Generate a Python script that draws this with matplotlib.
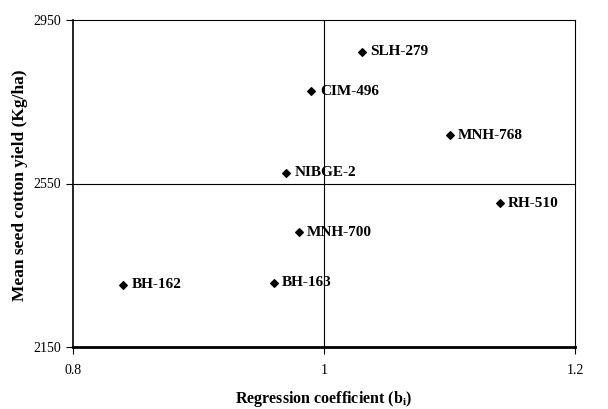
import matplotlib.pyplot as plt

# genotypes: regression coefficient (b) vs mean seed cotton yield
names = ['SLH-279', 'CIM-496', 'MNH-768', 'NIBGE-2', 'RH-510', 'MNH-700', 'BH-162', 'BH-163']
b = [1.03, 0.99, 1.10, 0.97, 1.14, 0.98, 0.84, 0.96]
yld = [2872, 2776, 2668, 2576, 2502, 2431, 2302, 2307]

xticks = [0.8, 1.0, 1.2]
xticklabels = ['0.8', '1', '1.2']
yticks = [2150, 2550, 2950]

plt.rcParams['font.family'] = ['Liberation Serif', 'DejaVu Serif']

fig = plt.figure(figsize=(6.08, 4.09), dpi=100)
ax = fig.add_axes([73/608, 1 - 347/409, (575-73)/608, (347-20)/409])

ax.axvline(1.0, color='black', lw=0.8)
ax.axhline(2550, color='black', lw=0.8)
ax.scatter(b, yld, marker='D', s=15, color='black', zorder=3)
for n, xv, yv in zip(names, b, yld):
    ax.annotate(n, (xv, yv), xytext=(6, 0), textcoords='offset points',
                va='center', ha='left', fontsize=11, fontweight='bold')

ax.set_xlim(0.8, 1.2)
ax.set_ylim(2150, 2950)
ax.set_xticks(xticks)
ax.set_xticklabels(xticklabels)
ax.set_yticks(yticks)
ax.tick_params(labelsize=10, direction='out', length=5, width=0.8)
ax.tick_params(axis='x', pad=7)

ax.spines['top'].set_linewidth(0.8)
ax.spines['right'].set_linewidth(0.8)
ax.spines['left'].set_linewidth(1.2)
ax.spines['bottom'].set_linewidth(2.0)

fig.text(324/608, 1 - 399/409, 'Regression coefficient (b$_\\mathregular{i}$)',
         fontsize=11.5, fontweight='bold', ha='center', va='center')
fig.text(20/608, 1 - 185/409, 'Mean seed cotton yield (Kg/ha)', rotation=90,
         fontsize=12.5, fontweight='bold', ha='center', va='center')

fig.savefig('out.png', dpi=100)
